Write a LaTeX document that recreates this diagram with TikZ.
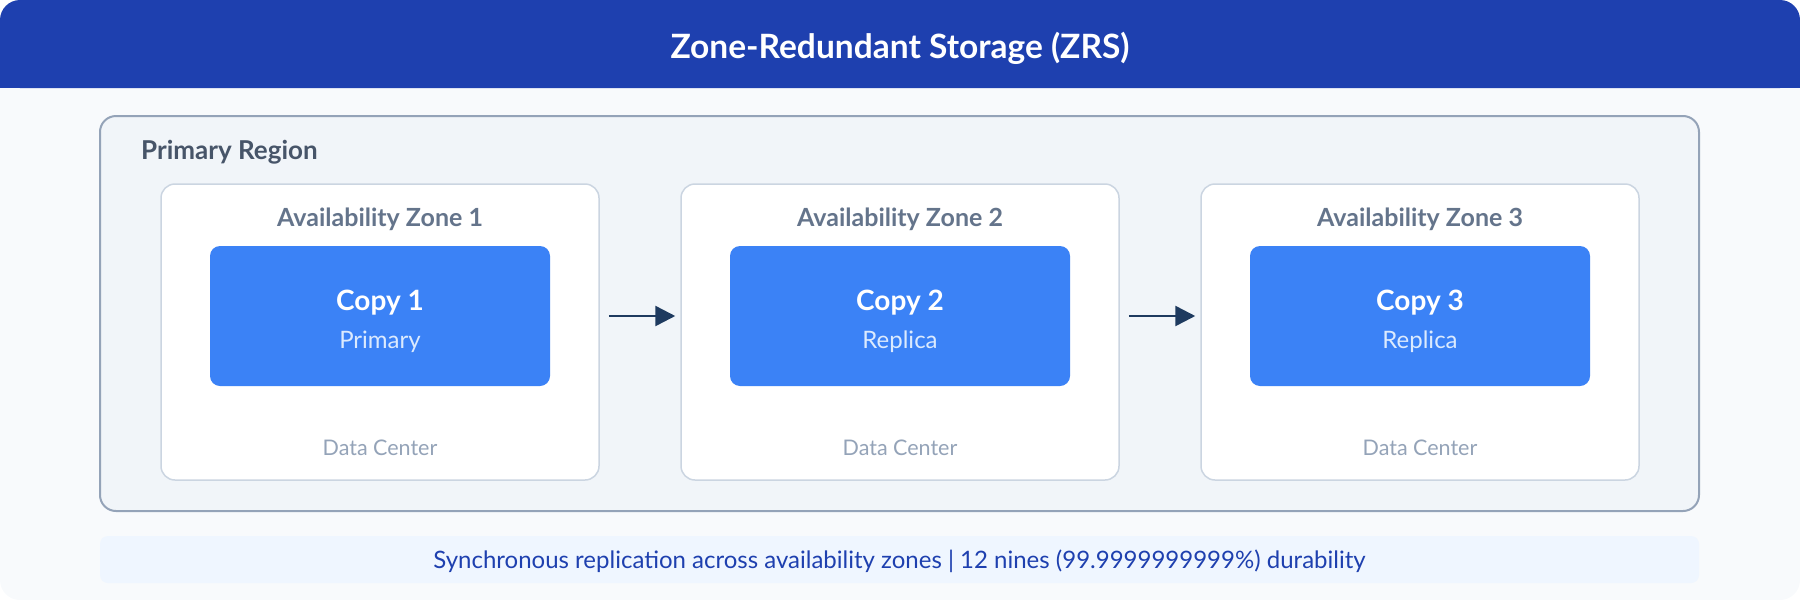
\documentclass[tikz,border=0pt]{standalone}
\usepackage{fontspec}
\setmainfont{Lato}
\usetikzlibrary{positioning,arrows.meta}
\definecolor{hdrblue}{HTML}{1E40AF}
\definecolor{pagebg}{HTML}{F8FAFC}
\definecolor{regionbg}{HTML}{F1F5F9}
\definecolor{regionline}{HTML}{94A3B8}
\definecolor{regiontxt}{HTML}{475569}
\definecolor{zoneline}{HTML}{CBD5E1}
\definecolor{zonetxt}{HTML}{64748B}
\definecolor{copyblue}{HTML}{3B82F6}
\definecolor{copysub}{HTML}{DBEAFE}
\definecolor{dctxt}{HTML}{94A3B8}
\definecolor{linkc}{HTML}{1E3A5F}
\definecolor{notebg}{HTML}{EFF6FF}

\begin{document}
\begin{tikzpicture}[x=1pt,y=-1pt,node distance=520pt,on grid,
    lbl/.style={inner sep=0pt,text depth=0pt},
    region/.style={draw=regionline,line width=2pt,fill=regionbg,rounded corners=16pt,minimum width=1599pt,minimum height=395pt},
    zone/.style={draw=zoneline,line width=1.5pt,fill=white,rounded corners=14pt,minimum width=438pt,minimum height=296pt},
    copybox/.style={fill=copyblue,rounded corners=10pt,minimum width=340pt,minimum height=140pt},
    note/.style={fill=notebg,rounded corners=8pt,minimum width=1599pt,minimum height=47pt},
    titletxt/.style={lbl,text height=24pt,font=\fontsize{33.5}{40}\selectfont\bfseries,text=white},
    regionlbl/.style={lbl,text height=18.6pt,font=\fontsize{26}{31}\selectfont\bfseries,text=regiontxt},
    zonelbl/.style={lbl,text height=17.9pt,font=\fontsize{25}{30}\selectfont\bfseries,text=zonetxt},
    copyname/.style={lbl,text height=20.1pt,font=\fontsize{28}{34}\selectfont\bfseries,text=white},
    copyrole/.style={lbl,text height=17.2pt,font=\fontsize{24}{29}\selectfont,text=copysub},
    dclbl/.style={lbl,text height=15.4pt,font=\fontsize{21.5}{26}\selectfont,text=dctxt},
    notetxt/.style={lbl,text height=17.2pt,font=\fontsize{24}{29}\selectfont,text=hdrblue},
    link/.style={-{Triangle[length=20pt,width=20pt]},line width=2.5pt,draw=linkc,shorten <=9pt,shorten >=5pt}]
  \useasboundingbox (0,0) rectangle (1800,600);
  \fill[pagebg,rounded corners=20pt] (0,0) rectangle (1800,600);
  \fill[hdrblue,rounded corners=20pt] (0,0) rectangle (1800,88);
  \fill[hdrblue] (0,50) rectangle (1800,88);
  \node[titletxt] (title) at (900,46) {Zone-Redundant Storage (ZRS)};

  \node[region] (region) at (899.5,313.5) {};
  \node[regionlbl,anchor=west] (region_lbl) at (141,150.5) {Primary Region};

  % zones
  \node[zone] (z_1) at (380,332) {};
  \node[zone] (z_2) [right=of z_1] {};
  \node[zone] (z_3) [right=of z_2] {};

  % copies
  \node[copybox] (c_1) [above=16pt of z_1] {};
  \node[copybox] (c_2) [above=16pt of z_2] {};
  \node[copybox] (c_3) [above=16pt of z_3] {};

  \node[zonelbl] (z_1_lbl) [above=114.3pt of z_1] {Availability Zone 1};
  \node[zonelbl] (z_2_lbl) [above=114.3pt of z_2] {Availability Zone 2};
  \node[zonelbl] (z_3_lbl) [above=114.3pt of z_3] {Availability Zone 3};

  \node[copyname] (c_1_name) [above=16pt of c_1] {Copy 1};
  \node[copyname] (c_2_name) [above=16pt of c_2] {Copy 2};
  \node[copyname] (c_3_name) [above=16pt of c_3] {Copy 3};
  \node[copyrole] (c_1_role) [below=24pt of c_1] {Primary};
  \node[copyrole] (c_2_role) [below=24pt of c_2] {Replica};
  \node[copyrole] (c_3_role) [below=24pt of c_3] {Replica};

  \node[dclbl] (z_1_dc) [below=116pt of z_1] {Data Center};
  \node[dclbl] (z_2_dc) [below=116pt of z_2] {Data Center};
  \node[dclbl] (z_3_dc) [below=116pt of z_3] {Data Center};

  \draw[link] (z_1.east |- c_1) -- (z_2.west |- c_2);
  \draw[link] (z_2.east |- c_2) -- (z_3.west |- c_3);

  \node[note] (note) at (899.5,559.5) {};
  \node[notetxt] (note_txt) at (note) {Synchronous replication across availability zones | 12 nines (99.9999999999\%) durability};
\end{tikzpicture}
\end{document}
